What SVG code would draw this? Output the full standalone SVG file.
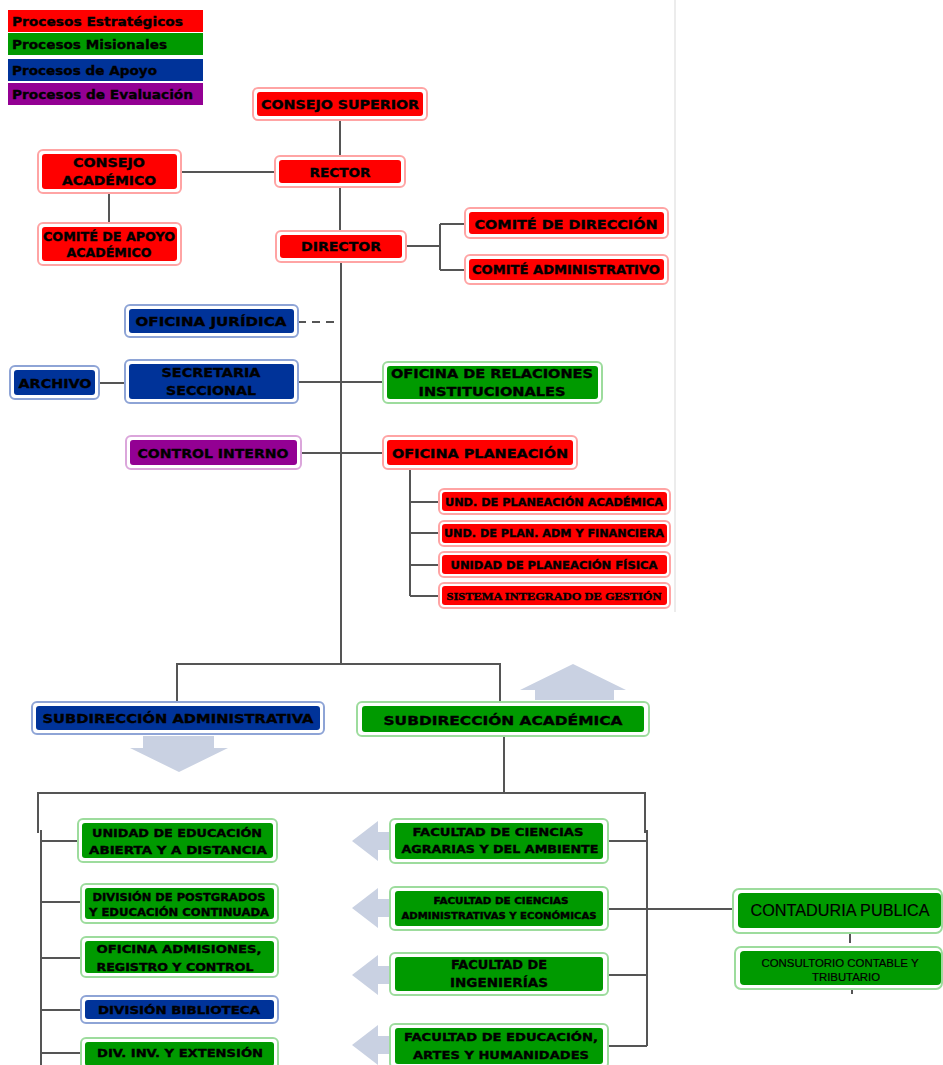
<svg xmlns="http://www.w3.org/2000/svg" width="943" height="1065" viewBox="0 0 943 1065">
<style>
.o{fill:#fff;stroke-width:2}
.or{stroke:#ffa4a4}.ir{fill:#ff0000}
.og{stroke:#9ddc9d}.ig{fill:#009a00}
.ob{stroke:#8ea4d6}.ib{fill:#003399}
.op{stroke:#dba6db}.ip{fill:#930093}
.t{font-family:"DejaVu Sans",Verdana,sans-serif;font-weight:bold;fill:#000;stroke:#000;stroke-width:0.35;text-anchor:middle;dominant-baseline:central;font-size:13px}
.s10{font-size:10px}.s11{font-size:11px}.s12{font-size:12px}.s8{font-size:8px}
.serif{font-family:"Liberation Serif","Times New Roman",serif;font-size:11px}
.arial{font-family:"Liberation Sans",Arial,sans-serif;font-weight:normal;stroke-width:0.2}
.s17{font-size:16.5px}
.lg{font-family:"DejaVu Sans",Verdana,sans-serif;font-weight:bold;fill:#000;stroke:#000;stroke-width:0.35;dominant-baseline:central;font-size:13px}
.c{fill:none;stroke:#555;stroke-width:2}
.arr{fill:#c9d1e2}
</style>
<rect width="943" height="1065" fill="#fff"/>
<line x1="675" y1="0" x2="675" y2="612" stroke="#ececec" stroke-width="2"/>

<g id="legend">
<rect x="8" y="10" width="195" height="22" fill="#ff0000"/>
<rect x="8" y="33" width="195" height="22" fill="#009a00"/>
<rect x="8" y="59" width="195" height="22" fill="#003399"/>
<rect x="8" y="83" width="195" height="22" fill="#930093"/>
<text class="lg" x="12" y="21" textLength="171" lengthAdjust="spacingAndGlyphs">Procesos Estratégicos</text>
<text class="lg" x="12" y="44" textLength="155" lengthAdjust="spacingAndGlyphs">Procesos Misionales</text>
<text class="lg" x="12" y="70" textLength="145" lengthAdjust="spacingAndGlyphs">Procesos de Apoyo</text>
<text class="lg" x="12" y="94" textLength="181" lengthAdjust="spacingAndGlyphs">Procesos de Evaluación</text>
</g>

<g id="connectors">
<path class="c" d="M340 120V156M340 187V231M341 262V664"/>
<path class="c" d="M181 172H276M109 193V223"/>
<path class="c" d="M406 246H440M440 224V270M440 224H466M440 270H466"/>
<path class="c" d="M298 322H341" stroke-dasharray="8 6"/>
<path class="c" d="M99 383H125M298 382H383M301 453H383"/>
<path class="c" d="M410 469V596M410 502H440M410 533H440M410 565H440M410 596H440"/>
<path class="c" d="M177 664H500M177 663V702M500 663V702"/>
<path class="c" d="M504 736V793M38 793H645M38 792V833M41 830V1065"/>
<path class="c" d="M41 841H81M41 902H82M41 958H82M41 1010H82M41 1053H82"/>
<path class="c" d="M645 792V833M647 830V1046M608 841H647M608 909H733M608 975H647M608 1046H647"/>
<path class="c" d="M850 933V943M852 989V994"/>
</g>

<g id="arrows">
<polygon class="arr" points="143,736 214,736 214,748 228,748 179,772 130,748 143,748"/>
<polygon class="arr" points="573,664 626,690 614,690 614,700 535,700 535,690 520,690"/>
<polygon class="arr" points="352,841 378,821 378,832 392,832 392,850 378,850 378,861"/>
<polygon class="arr" points="352,908 378,888 378,899 392,899 392,917 378,917 378,928"/>
<polygon class="arr" points="352,975 378,955 378,966 392,966 392,984 378,984 378,995"/>
<polygon class="arr" points="352,1045 378,1025 378,1036 392,1036 392,1054 378,1054 378,1065"/>
</g>

<g id="consejo-superior"><rect class="o or" x="253" y="88" width="174" height="32" rx="5"/><rect class="ir" x="257" y="92" width="166" height="24" rx="3"/><text class="t" x="340" y="104" textLength="158" lengthAdjust="spacingAndGlyphs">CONSEJO SUPERIOR</text></g>
<g id="rector"><rect class="o or" x="275" y="156" width="130" height="31" rx="5"/><rect class="ir" x="279" y="160" width="122" height="23" rx="3"/><text class="t" x="340" y="172" textLength="61" lengthAdjust="spacingAndGlyphs">RECTOR</text></g>
<g id="director"><rect class="o or" x="276" y="231" width="130" height="31" rx="5"/><rect class="ir" x="280" y="235" width="122" height="23" rx="3"/><text class="t" x="341" y="246" textLength="80" lengthAdjust="spacingAndGlyphs">DIRECTOR</text></g>
<g id="comite-direccion"><rect class="o or" x="465" y="208" width="203" height="30" rx="5"/><rect class="ir" x="469" y="212" width="195" height="22" rx="3"/><text class="t" x="566" y="224" textLength="183" lengthAdjust="spacingAndGlyphs">COMITÉ DE DIRECCIÓN</text></g>
<g id="comite-administrativo"><rect class="o or" x="465" y="255" width="203" height="29" rx="5"/><rect class="ir" x="469" y="259" width="195" height="21" rx="3"/><text class="t s12" x="566" y="270" textLength="188" lengthAdjust="spacingAndGlyphs">COMITÉ ADMINISTRATIVO</text></g>
<g id="consejo-academico"><rect class="o or" x="38" y="150" width="143" height="43" rx="5"/><rect class="ir" x="42" y="154" width="135" height="35" rx="3"/><text class="t" x="109" y="162" textLength="72" lengthAdjust="spacingAndGlyphs">CONSEJO</text><text class="t" x="109" y="180" textLength="94" lengthAdjust="spacingAndGlyphs">ACADÉMICO</text></g>
<g id="comite-apoyo"><rect class="o or" x="38" y="223" width="143" height="42" rx="5"/><rect class="ir" x="42" y="227" width="135" height="34" rx="3"/><text class="t s12" x="109" y="237" textLength="132" lengthAdjust="spacingAndGlyphs">COMITÉ DE APOYO</text><text class="t s12" x="109" y="253" textLength="85" lengthAdjust="spacingAndGlyphs">ACADÉMICO</text></g>
<g id="oficina-juridica"><rect class="o ob" x="125" y="305" width="173" height="32" rx="5"/><rect class="ib" x="129" y="309" width="165" height="24" rx="3"/><text class="t" x="211" y="321" textLength="151" lengthAdjust="spacingAndGlyphs">OFICINA JURÍDICA</text></g>
<g id="archivo"><rect class="o ob" x="10" y="366" width="89" height="33" rx="5"/><rect class="ib" x="14" y="370" width="81" height="25" rx="3"/><text class="t" x="55" y="383" textLength="73" lengthAdjust="spacingAndGlyphs">ARCHIVO</text></g>
<g id="secretaria-seccional"><rect class="o ob" x="125" y="360" width="173" height="43" rx="5"/><rect class="ib" x="129" y="364" width="165" height="35" rx="3"/><text class="t" x="211" y="372" textLength="99" lengthAdjust="spacingAndGlyphs">SECRETARIA</text><text class="t" x="211" y="390" textLength="90" lengthAdjust="spacingAndGlyphs">SECCIONAL</text></g>
<g id="relaciones-institucionales"><rect class="o og" x="383" y="362" width="219" height="41" rx="5"/><rect class="ig" x="387" y="366" width="211" height="33" rx="3"/><text class="t" x="492" y="373" textLength="202" lengthAdjust="spacingAndGlyphs">OFICINA DE RELACIONES</text><text class="t" x="492" y="391" textLength="147" lengthAdjust="spacingAndGlyphs">INSTITUCIONALES</text></g>
<g id="control-interno"><rect class="o op" x="126" y="436" width="175" height="33" rx="5"/><rect class="ip" x="130" y="440" width="167" height="25" rx="3"/><text class="t" x="213" y="453" textLength="151" lengthAdjust="spacingAndGlyphs">CONTROL INTERNO</text></g>
<g id="oficina-planeacion"><rect class="o or" x="383" y="436" width="194" height="33" rx="5"/><rect class="ir" x="387" y="440" width="186" height="25" rx="3"/><text class="t" x="480" y="453" textLength="176" lengthAdjust="spacingAndGlyphs">OFICINA PLANEACIÓN</text></g>
<g id="und-planeacion-academica"><rect class="o or" x="439" y="489" width="231" height="25" rx="5"/><rect class="ir" x="442" y="492" width="225" height="19" rx="3"/><text class="t s10" x="554" y="502" textLength="218" lengthAdjust="spacingAndGlyphs">UND. DE PLANEACIÓN ACADÉMICA</text></g>
<g id="und-plan-financiera"><rect class="o or" x="439" y="521" width="231" height="25" rx="5"/><rect class="ir" x="442" y="524" width="225" height="19" rx="3"/><text class="t s10" x="554" y="533" textLength="220" lengthAdjust="spacingAndGlyphs">UND. DE PLAN. ADM Y FINANCIERA</text></g>
<g id="und-planeacion-fisica"><rect class="o or" x="439" y="552" width="231" height="25" rx="5"/><rect class="ir" x="442" y="555" width="225" height="19" rx="3"/><text class="t s10" x="554" y="565" textLength="207" lengthAdjust="spacingAndGlyphs">UNIDAD DE PLANEACIÓN FÍSICA</text></g>
<g id="sistema-integrado"><rect class="o or" x="439" y="583" width="231" height="25" rx="5"/><rect class="ir" x="442" y="586" width="225" height="19" rx="3"/><text class="t serif" x="554" y="596" textLength="215" lengthAdjust="spacingAndGlyphs">SISTEMA INTEGRADO DE GESTIÓN</text></g>
<g id="subdireccion-administrativa"><rect class="o ob" x="32" y="702" width="292" height="32" rx="5"/><rect class="ib" x="36" y="706" width="284" height="24" rx="3"/><text class="t" x="178" y="718" textLength="271" lengthAdjust="spacingAndGlyphs">SUBDIRECCIÓN ADMINISTRATIVA</text></g>
<g id="subdireccion-academica"><rect class="o og" x="357" y="702" width="292" height="34" rx="5"/><rect class="ig" x="362" y="706" width="282" height="26" rx="3"/><text class="t" x="503" y="720" textLength="239" lengthAdjust="spacingAndGlyphs">SUBDIRECCIÓN ACADÉMICA</text></g>
<g id="unidad-educacion"><rect class="o og" x="78" y="819" width="199" height="43" rx="5"/><rect class="ig" x="82" y="823" width="191" height="35" rx="3"/><text class="t s11" x="177" y="833" textLength="170" lengthAdjust="spacingAndGlyphs">UNIDAD DE EDUCACIÓN</text><text class="t s11" x="178" y="850" textLength="178" lengthAdjust="spacingAndGlyphs">ABIERTA Y A DISTANCIA</text></g>
<g id="division-postgrados"><rect class="o og" x="81" y="884" width="197" height="39" rx="5"/><rect class="ig" x="85" y="888" width="189" height="31" rx="3"/><text class="t s10" x="179" y="897" textLength="173" lengthAdjust="spacingAndGlyphs">DIVISIÓN DE POSTGRADOS</text><text class="t s10" x="179" y="912" textLength="180" lengthAdjust="spacingAndGlyphs">Y EDUCACIÓN CONTINUADA</text></g>
<g id="oficina-admisiones"><rect class="o og" x="81" y="937" width="197" height="40" rx="5"/><rect class="ig" x="85" y="941" width="189" height="32" rx="3"/><text class="t s11" x="179" y="949" textLength="165" lengthAdjust="spacingAndGlyphs">OFICINA ADMISIONES,</text><text class="t s11" x="175" y="967" textLength="157" lengthAdjust="spacingAndGlyphs">REGISTRO Y CONTROL</text></g>
<g id="division-biblioteca"><rect class="o ob" x="81" y="996" width="197" height="27" rx="5"/><rect class="ib" x="85" y="1000" width="189" height="19" rx="3"/><text class="t s11" x="179" y="1010" textLength="162" lengthAdjust="spacingAndGlyphs">DIVISIÓN BIBLIOTECA</text></g>
<g id="div-investigacion"><rect class="o og" x="81" y="1038" width="197" height="32" rx="5"/><rect class="ig" x="85" y="1042" width="189" height="24" rx="3"/><text class="t s11" x="180" y="1053" textLength="166" lengthAdjust="spacingAndGlyphs">DIV. INV. Y EXTENSIÓN</text></g>
<g id="fac-agrarias"><rect class="o og" x="390" y="819" width="218" height="44" rx="5"/><rect class="ig" x="395" y="823" width="208" height="36" rx="3"/><text class="t s11" x="498" y="832" textLength="171" lengthAdjust="spacingAndGlyphs">FACULTAD DE CIENCIAS</text><text class="t s11" x="500" y="849" textLength="197" lengthAdjust="spacingAndGlyphs">AGRARIAS Y DEL AMBIENTE</text></g>
<g id="fac-administrativas"><rect class="o og" x="390" y="887" width="218" height="43" rx="5"/><rect class="ig" x="395" y="891" width="208" height="35" rx="3"/><text class="t s8" x="501" y="901" textLength="135" lengthAdjust="spacingAndGlyphs">FACULTAD DE CIENCIAS</text><text class="t s8" x="499" y="916" textLength="195" lengthAdjust="spacingAndGlyphs">ADMINISTRATIVAS Y ECONÓMICAS</text></g>
<g id="fac-ingenierias"><rect class="o og" x="390" y="953" width="218" height="42" rx="5"/><rect class="ig" x="395" y="957" width="208" height="34" rx="3"/><text class="t s12" x="499" y="965" textLength="96" lengthAdjust="spacingAndGlyphs">FACULTAD DE</text><text class="t s12" x="499" y="983" textLength="98" lengthAdjust="spacingAndGlyphs">INGENIERÍAS</text></g>
<g id="fac-educacion"><rect class="o og" x="390" y="1024" width="218" height="44" rx="5"/><rect class="ig" x="395" y="1028" width="208" height="36" rx="3"/><text class="t s11" x="501" y="1037" textLength="194" lengthAdjust="spacingAndGlyphs">FACULTAD DE EDUCACIÓN,</text><text class="t s11" x="501" y="1055" textLength="176" lengthAdjust="spacingAndGlyphs">ARTES Y HUMANIDADES</text></g>
<g id="contaduria-publica"><rect class="o og" x="733" y="889" width="209" height="44" rx="6"/><rect class="ig" x="738" y="893" width="203" height="35" rx="4"/><text class="t arial s17" x="840" y="910" textLength="179" lengthAdjust="spacingAndGlyphs">CONTADURIA PUBLICA</text></g>
<g id="consultorio-contable"><rect class="o og" x="735" y="947" width="207" height="42" rx="6"/><rect class="ig" x="740" y="951" width="201" height="34" rx="4"/><text class="t arial s11" x="840" y="963" textLength="157" lengthAdjust="spacingAndGlyphs">CONSULTORIO CONTABLE Y</text><text class="t arial s11" x="846" y="977" textLength="68" lengthAdjust="spacingAndGlyphs">TRIBUTARIO</text></g>
</svg>
